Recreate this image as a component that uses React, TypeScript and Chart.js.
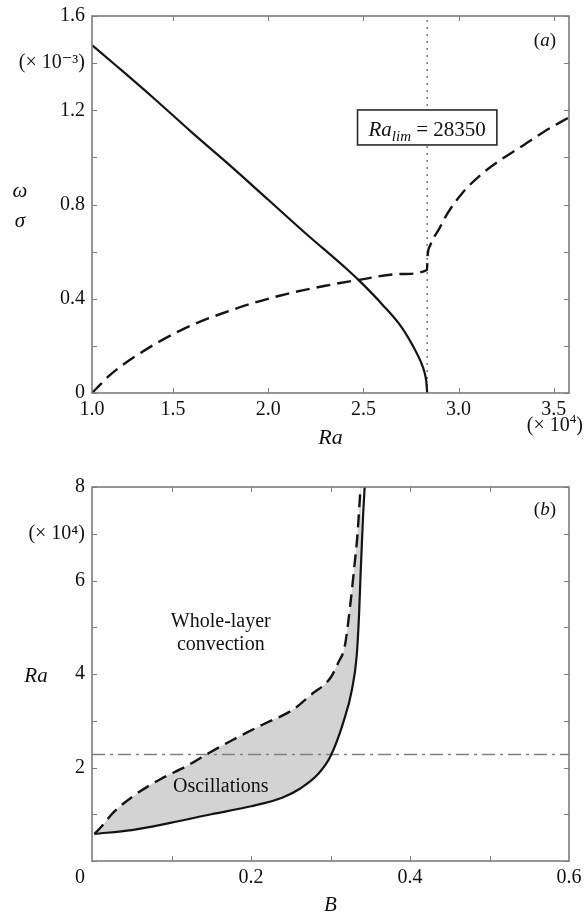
import React, { useEffect, useRef } from 'react';
import { Chart, registerables } from 'chart.js';

Chart.register(...registerables);

// ---------------- Panel (a) data ----------------
const raAxisMin = 1.074; // axis starts at the critical Ra (labelled "1.0")
const raAxisMax = 3.58;
const raLim = 2.835;
const raLimText = '28350';
const aXTickValues = [1.074, 1.5, 2.0, 2.5, 3.0, 3.5];
const aXTickLabels = ['1.0', '1.5', '2.0', '2.5', '3.0', '3.5'];
const aYTickValues = [0, 0.2, 0.4, 0.6, 0.8, 1.0, 1.2, 1.4, 1.6];
const aYTickLabels = ['0', '', '0.4', '', '0.8', '', '1.2', '(× 10⁻³)', '1.6'];

// omega (solid)
const omegaRa = [1.074, 1.2, 1.4, 1.6, 1.8, 2.0, 2.2, 2.4, 2.474, 2.6, 2.7, 2.76, 2.8, 2.82, 2.83, 2.835];
const omegaVals = [1.477, 1.39, 1.25, 1.105, 0.965, 0.82, 0.675, 0.535, 0.48, 0.375, 0.28, 0.2, 0.135, 0.09, 0.05, 0];

// sigma (dashed)
const sigmaRa = [1.074, 1.12, 1.168, 1.3, 1.537, 1.8, 2.07, 2.3, 2.474, 2.7, 2.834, 2.837, 2.85, 2.9, 2.94, 3.02, 3.115, 3.22, 3.326, 3.447, 3.58];
const sigmaVals = [0, 0.038, 0.076, 0.155, 0.265, 0.35, 0.415, 0.455, 0.48, 0.505, 0.522, 0.58, 0.625, 0.7, 0.76, 0.849, 0.925, 0.989, 1.044, 1.108, 1.17];

// ---------------- Panel (b) data ----------------
const bXTickValues = [0, 0.1, 0.2, 0.3, 0.4, 0.5, 0.6];
const bXTickLabels = ['', '', '0.2', '', '0.4', '', '0.6'];
const bCornerLabel = '0';
const bYTickValues = [0, 1, 2, 3, 4, 5, 6, 7, 8];
const bYTickLabels = ['', '', '2', '', '4', '', '6', '(× 10⁴)', '8'];

// upper boundary (dashed)
const upperB = [0.003, 0.01, 0.027, 0.052, 0.086, 0.119, 0.144, 0.178, 0.215, 0.253, 0.275, 0.3, 0.31, 0.318, 0.325, 0.33, 0.334, 0.337, 0.339];
const upperRa = [0.58, 0.7, 1.04, 1.39, 1.75, 2.03, 2.28, 2.6, 2.92, 3.24, 3.55, 3.92, 4.25, 4.6, 5.5, 6.3, 7.0, 7.78, 8.3];

// lower boundary (solid)
const lowerB = [0.003, 0.05, 0.1, 0.15, 0.2, 0.24, 0.262, 0.285, 0.3, 0.316, 0.327, 0.333, 0.336, 0.338, 0.341, 0.344];
const lowerRa = [0.58, 0.66, 0.82, 1.0, 1.17, 1.36, 1.55, 1.87, 2.24, 2.96, 3.67, 4.4, 5.3, 6.2, 7.4, 8.3];

const refRa = 2.28; // dash-dot horizontal line
const refBRange = [0, 0.6];

// ---------------- styles ----------------
const SERIF = "'Liberation Serif', 'Times New Roman', 'DejaVu Serif', serif";
const TEXT = '#111111';
const AXIS = '#7c7c7c';
const CURVE = '#141414';
const GREY_LINE = '#808080';
const FILL = '#d3d3d3';
const TICK_LEN = 5;
const TICK_FONT = 20;

type Part = { t: string; italic?: boolean; size: number; dy?: number };

function fontOf(p: Part) {
  return `${p.italic ? 'italic ' : ''}${p.size}px ${SERIF}`;
}

function richWidth(ctx: CanvasRenderingContext2D, parts: Part[]) {
  let w = 0;
  for (const p of parts) {
    ctx.font = fontOf(p);
    w += ctx.measureText(p.t).width;
  }
  return w;
}

function drawRich(ctx: CanvasRenderingContext2D, parts: Part[], x: number, y: number, align: 'left' | 'center' | 'right') {
  const w = richWidth(ctx, parts);
  let cx = align === 'center' ? x - w / 2 : align === 'right' ? x - w : x;
  ctx.textAlign = 'left';
  ctx.textBaseline = 'alphabetic';
  ctx.fillStyle = TEXT;
  for (const p of parts) {
    ctx.font = fontOf(p);
    ctx.fillText(p.t, cx, y + (p.dy || 0));
    cx += ctx.measureText(p.t).width;
  }
}

function drawFrame(chart: any, xTicks: number[], yTicks: number[]) {
  const { ctx, chartArea, scales } = chart;
  const { left, right, top, bottom } = chartArea;
  ctx.save();
  ctx.strokeStyle = AXIS;
  ctx.lineWidth = 1;
  ctx.beginPath();
  for (const v of xTicks) {
    const px = Math.round(scales.x.getPixelForValue(v)) + 0.5;
    ctx.moveTo(px, bottom);
    ctx.lineTo(px, bottom - TICK_LEN);
    ctx.moveTo(px, top);
    ctx.lineTo(px, top + TICK_LEN);
  }
  for (const v of yTicks) {
    const py = Math.round(scales.y.getPixelForValue(v)) + 0.5;
    ctx.moveTo(left, py);
    ctx.lineTo(left + TICK_LEN, py);
    ctx.moveTo(right, py);
    ctx.lineTo(right - TICK_LEN, py);
  }
  ctx.stroke();
  ctx.lineWidth = 1.6;
  ctx.strokeRect(left, top, right - left, bottom - top);
  ctx.restore();
}

function axisCfg(min: number, max: number, values: number[], labels: string[], isX: boolean, size: number) {
  return {
    type: 'linear',
    min,
    max,
    grid: { display: false, drawTicks: false },
    border: { display: false },
    afterBuildTicks: (s: any) => {
      s.ticks = values.map((v) => ({ value: v }));
    },
    afterFit: (s: any) => {
      if (isX) s.height = size;
      else s.width = size;
      s.paddingLeft = 0;
      s.paddingRight = 0;
      s.paddingTop = 0;
      s.paddingBottom = 0;
    },
    ticks: {
      autoSkip: false,
      maxRotation: 0,
      minRotation: 0,
      padding: isX ? 5 : 7,
      color: TEXT,
      font: { family: SERIF, size: TICK_FONT },
      callback: (_v: any, i: number) => labels[i],
    },
  };
}

const panelAPlugin = {
  id: 'panelA',
  afterDatasetsDraw(chart: any) {
    const { ctx, chartArea, scales } = chart;
    const { left, right, top, bottom } = chartArea;
    drawFrame(chart, aXTickValues.slice(1), aYTickValues);
    ctx.save();
    // Ra_lim box
    const parts: Part[] = [
      { t: 'Ra', italic: true, size: 21 },
      { t: 'lim', italic: true, size: 15, dy: 5 },
      { t: ' = ' + raLimText, size: 21 },
    ];
    const tw = richWidth(ctx, parts);
    const cx = scales.x.getPixelForValue(raLim);
    const cy = scales.y.getPixelForValue(1.127);
    const bw = tw + 22;
    const bh = 35;
    ctx.fillStyle = '#ffffff';
    ctx.fillRect(cx - bw / 2, cy - bh / 2, bw, bh);
    ctx.strokeStyle = '#2a2a2a';
    ctx.lineWidth = 1.6;
    ctx.strokeRect(cx - bw / 2, cy - bh / 2, bw, bh);
    drawRich(ctx, parts, cx, cy + 9, 'center');
    // panel tag
    drawRich(ctx, [{ t: '(', size: 19 }, { t: 'a', italic: true, size: 19 }, { t: ')', size: 19 }], right - 13, top + 30, 'right');
    // axis titles
    const ymid = scales.y.getPixelForValue(0.8);
    drawRich(ctx, [{ t: 'ω', italic: true, size: 21 }], 20, ymid - 8, 'center');
    drawRich(ctx, [{ t: 'σ', italic: true, size: 21 }], 20, ymid + 22, 'center');
    drawRich(ctx, [{ t: 'Ra', italic: true, size: 22 }], (left + right) / 2, bottom + 51, 'center');
    drawRich(
      ctx,
      [{ t: '(× 10', size: 20 }, { t: '4', size: 13, dy: -8 }, { t: ')', size: 20 }],
      scales.x.getPixelForValue(3.5) + 1,
      bottom + 38,
      'center'
    );
    ctx.restore();
  },
};

const panelBPlugin = {
  id: 'panelB',
  afterDatasetsDraw(chart: any) {
    const { ctx, chartArea, scales } = chart;
    const { left, right, top, bottom } = chartArea;
    drawFrame(chart, bXTickValues.slice(1, -1), bYTickValues);
    ctx.save();
    ctx.fillStyle = TEXT;
    ctx.font = `20px ${SERIF}`;
    ctx.textAlign = 'center';
    ctx.textBaseline = 'middle';
    const xs = scales.x;
    const ys = scales.y;
    ctx.fillText('Whole-layer', xs.getPixelForValue(0.162), ys.getPixelForValue(5.12));
    ctx.fillText('convection', xs.getPixelForValue(0.162), ys.getPixelForValue(4.63));
    ctx.fillText('Oscillations', xs.getPixelForValue(0.162), ys.getPixelForValue(1.58));
    // corner zero label
    ctx.font = `${TICK_FONT}px ${SERIF}`;
    ctx.fillText(bCornerLabel, left - 12, bottom + 17);
    drawRich(ctx, [{ t: '(', size: 19 }, { t: 'b', italic: true, size: 19 }, { t: ')', size: 19 }], right - 13, top + 28, 'right');
    drawRich(ctx, [{ t: 'Ra', italic: true, size: 21 }], 36, ys.getPixelForValue(4) + 8, 'center');
    drawRich(ctx, [{ t: 'B', italic: true, size: 21 }], (left + right) / 2, bottom + 50, 'center');
    ctx.restore();
  },
};

function pts(xs: number[], ys: number[]) {
  return xs.map((x, i) => ({ x, y: ys[i] }));
}

export default function App() {
  const topRef = useRef<HTMLCanvasElement>(null);
  const botRef = useRef<HTMLCanvasElement>(null);

  useEffect(() => {
    const chartA = new Chart(topRef.current as HTMLCanvasElement, {
      type: 'scatter',
      data: {
        datasets: [
          {
            data: pts(omegaRa, omegaVals),
            showLine: true,
            borderColor: CURVE,
            borderWidth: 2.2,
            pointRadius: 0,
            cubicInterpolationMode: 'monotone',
          },
          {
            data: pts(sigmaRa, sigmaVals),
            showLine: true,
            borderColor: CURVE,
            borderWidth: 2.4,
            borderDash: [14, 7],
            pointRadius: 0,
            cubicInterpolationMode: 'monotone',
          },
          {
            data: [
              { x: raLim, y: 0 },
              { x: raLim, y: 1.6 },
            ],
            showLine: true,
            borderColor: GREY_LINE,
            borderWidth: 1.6,
            borderDash: [2, 5],
            pointRadius: 0,
            tension: 0,
          },
        ],
      } as any,
      options: {
        responsive: false,
        animation: false,
        events: [],
        layout: { padding: { top: 16, right: 16, left: 0, bottom: 0 } },
        plugins: { legend: { display: false }, tooltip: { enabled: false } },
        scales: {
          x: axisCfg(raAxisMin, raAxisMax, aXTickValues, aXTickLabels, true, 57),
          y: axisCfg(0, 1.6, aYTickValues, aYTickLabels, false, 92),
        } as any,
      },
      plugins: [panelAPlugin],
    });

    const chartB = new Chart(botRef.current as HTMLCanvasElement, {
      type: 'scatter',
      data: {
        datasets: [
          {
            data: pts(upperB, upperRa),
            showLine: true,
            borderColor: CURVE,
            borderWidth: 2.4,
            borderDash: [13, 7],
            pointRadius: 0,
            cubicInterpolationMode: 'monotone',
            backgroundColor: FILL,
            fill: { target: 1, above: FILL, below: FILL },
          },
          {
            data: pts(lowerB, lowerRa),
            showLine: true,
            borderColor: CURVE,
            borderWidth: 2.2,
            pointRadius: 0,
            cubicInterpolationMode: 'monotone',
          },
          {
            data: [
              { x: refBRange[0], y: refRa },
              { x: refBRange[1], y: refRa },
            ],
            showLine: true,
            borderColor: GREY_LINE,
            borderWidth: 1.5,
            borderDash: [13, 5, 3, 5],
            pointRadius: 0,
            tension: 0,
          },
        ],
      } as any,
      options: {
        responsive: false,
        animation: false,
        events: [],
        layout: { padding: { top: 37, right: 16, left: 0, bottom: 0 } },
        plugins: {
          legend: { display: false },
          tooltip: { enabled: false },
          filler: { drawTime: 'beforeDatasetsDraw' },
        } as any,
        scales: {
          x: axisCfg(0, 0.6, bXTickValues, bXTickLabels, true, 54),
          y: axisCfg(0, 8, bYTickValues, bYTickLabels, false, 92),
        } as any,
      },
      plugins: [panelBPlugin],
    });

    return () => {
      chartA.destroy();
      chartB.destroy();
    };
  }, []);

  return (
    <div style={{ position: 'absolute', left: 0, top: 0, width: 585, height: 915, background: '#ffffff' }}>
      <canvas ref={topRef} width={585} height={450} style={{ display: 'block' }} />
      <canvas ref={botRef} width={585} height={465} style={{ display: 'block' }} />
    </div>
  );
}
